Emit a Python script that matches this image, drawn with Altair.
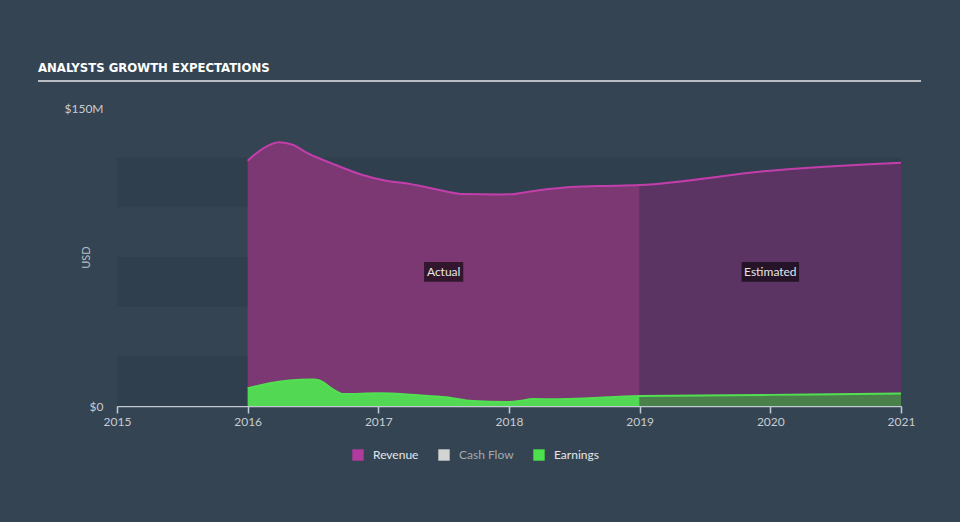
import altair as alt
import pandas as pd

# ---- data (values in $M) ----
rev_act_year = [2016.0, 2016.12, 2016.24, 2016.35, 2016.45, 2016.63, 2016.88, 2017.06, 2017.21,
                2017.44, 2017.64, 2017.92, 2018.02, 2018.15, 2018.43, 2018.69, 2019.0]
rev_act_val = [123.5, 129.7, 132.7, 131.4, 127.5, 122.5, 116.3, 113.4, 112.1,
               109.1, 106.7, 106.5, 106.6, 107.9, 110.0, 110.7, 111.2]
rev_est_year = [2019.0, 2020.0, 2021.0]
rev_est_val = [111.2, 118.4, 122.4]

earn_act_year = [2016.0, 2016.24, 2016.4, 2016.5, 2016.55, 2016.65, 2016.73, 2017.0, 2017.31,
                 2017.52, 2017.72, 2017.98, 2018.08, 2018.18, 2018.38, 2019.0]
earn_act_val = [8.9, 12.2, 13.2, 13.4, 12.8, 8.5, 6.0, 6.4, 5.4,
                4.4, 2.5, 2.0, 2.5, 3.5, 3.4, 5.0]
earn_est_year = [2019.0, 2020.0, 2021.0]
earn_est_val = [5.0, 5.6, 6.3]

series_names = ["Revenue", "Cash Flow", "Earnings"]
series_colors = ["#b03a9e", "#d3d3d3", "#4de04d"]

band_lo = [0, 50, 100]
band_hi = [25, 75, 125]

year_ticks = [2015, 2016, 2017, 2018, 2019, 2020, 2021]

note_text = ["Actual", "Estimated"]
note_year = [2017.5, 2020.0]
note_val = [67.5, 67.5]
note_x0 = [2017.35, 2019.78]
note_x1 = [2017.65, 2020.22]

BG = "#344452"
FONT = "Lato"
W, H = 784, 298

rev_act = pd.DataFrame({"year": rev_act_year, "v": rev_act_val})
rev_est = pd.DataFrame({"year": rev_est_year, "v": rev_est_val})
earn_act = pd.DataFrame({"year": earn_act_year, "v": earn_act_val})
earn_est = pd.DataFrame({"year": earn_est_year, "v": earn_est_val})
rev_all = pd.concat([rev_act, rev_est.iloc[1:]])
earn_all = pd.concat([earn_act, earn_est.iloc[1:]])

xs = alt.Scale(domain=[2015, 2021], nice=False, zero=False)
ys = alt.Scale(domain=[0, 150], nice=False)

x_axis = alt.Axis(values=year_ticks, format="d", title=None, grid=False,
                  domainColor="#c3c9d0", domainWidth=1.5, tickColor="#c3c9d0",
                  tickWidth=1.5, tickSize=7, labelColor="#c8ccd2", labelFontSize=12,
                  labelFont=FONT, labelPadding=3, labelFlush=False, labelBound=False)
y_axis = alt.Axis(values=[0, 150], labelExpr="datum.value == 0 ? '$0' : '$150M'",
                  grid=False, domain=False, ticks=False, labelColor="#c8ccd2",
                  labelFontSize=12, labelFont=FONT, labelPadding=14,
                  title="USD", titleColor="#b8bec5", titleFontSize=11,
                  titleFont=FONT, titleFontWeight="normal", titleX=-31, titleY=149,
                  titleAngle=270, titleAlign="center", titleBaseline="middle")

X = alt.X("year:Q", scale=xs, axis=x_axis)
Y = alt.Y("v:Q", scale=ys, axis=y_axis)

bands = alt.Chart(pd.DataFrame({"lo": band_lo, "hi": band_hi})).mark_rect(
    color="#303f4d").encode(x=alt.value(0), x2=alt.value(W),
                            y=alt.Y("lo:Q", scale=ys, axis=y_axis), y2="hi:Q")

legend_df = pd.DataFrame({"series": series_names, "year": [2018.0] * 3, "v": [50.0] * 3})
legend_layer = alt.Chart(legend_df).mark_square(size=10, opacity=1).encode(
    x=alt.X("year:Q", scale=xs, axis=x_axis), y=alt.Y("v:Q", scale=ys, axis=y_axis),
    color=alt.Color("series:N",
                    scale=alt.Scale(domain=series_names, range=series_colors),
                    legend=alt.Legend(title=None, orient="none", direction="horizontal",
                                      legendX=235, legendY=341, symbolType="square",
                                      symbolSize=130, symbolStrokeWidth=0,
                                      labelFont=FONT, labelFontSize=12,
                                      labelColor=alt.ExprRef("datum.label == 'Cash Flow' ? '#a3a9b0' : '#e4e6e8'"),
                                      labelOffset=9, columnPadding=19)))

rev_act_area = alt.Chart(rev_act).mark_area(color="#7b3873", interpolate="monotone").encode(x=X, y=Y)
rev_est_area = alt.Chart(rev_est).mark_area(color="#5c3464", interpolate="monotone").encode(x=X, y=Y)
earn_act_area = alt.Chart(earn_act).mark_area(color="#52d852", interpolate="monotone").encode(x=X, y=Y)
earn_est_area = alt.Chart(earn_est).mark_area(color="#4a8049", interpolate="monotone").encode(x=X, y=Y)
rev_line = alt.Chart(rev_all).mark_line(color="#c23fab", strokeWidth=2, interpolate="monotone").encode(x=X, y=Y)
earn_line = alt.Chart(earn_all).mark_line(color="#52e052", strokeWidth=2, interpolate="monotone").encode(x=X, y=Y)

notes = pd.DataFrame({"t": note_text, "year": note_year, "v": note_val,
                      "x0": note_x0, "x1": note_x1,
                      "y0": [v - 5 for v in note_val], "y1": [v + 5 for v in note_val]})
note_box = alt.Chart(notes).mark_rect(color="#000000", opacity=0.6).encode(
    x=alt.X("x0:Q", scale=xs, axis=x_axis), x2="x1:Q",
    y=alt.Y("y0:Q", scale=ys, axis=y_axis), y2="y1:Q")
note_txt = alt.Chart(notes).mark_text(color="#e6e6e6", font=FONT, fontSize=12).encode(
    x=alt.X("year:Q", scale=xs, axis=x_axis), y=alt.Y("v:Q", scale=ys, axis=y_axis), text="t:N")

title_txt = alt.Chart(pd.DataFrame({"t": ["ANALYSTS GROWTH EXPECTATIONS"]})).mark_text(
    align="left", baseline="middle", font="DejaVu Sans Condensed, Liberation Sans Narrow, sans-serif",
    fontWeight="bold", fontSize=13, color="#ffffff").encode(
    x=alt.value(-79), y=alt.value(-40), text="t:N")
title_rule = alt.Chart(pd.DataFrame({"a": [0]})).mark_rule(color="#b9bdc3", strokeWidth=2).encode(
    x=alt.value(-79), x2=alt.value(804), y=alt.value(-27))

chart = alt.layer(
    bands, legend_layer, rev_act_area, rev_est_area, earn_act_area, earn_est_area,
    rev_line, earn_line, note_box, note_txt, title_txt, title_rule
).properties(
    width=W, height=H,
    autosize=alt.AutoSizeParams(type="none"),
    padding={"left": 117, "top": 108, "right": 59, "bottom": 116},
    background=BG,
).configure_view(stroke=None)

chart.save("out.html", embed_options={"renderer": "svg", "actions": False})
